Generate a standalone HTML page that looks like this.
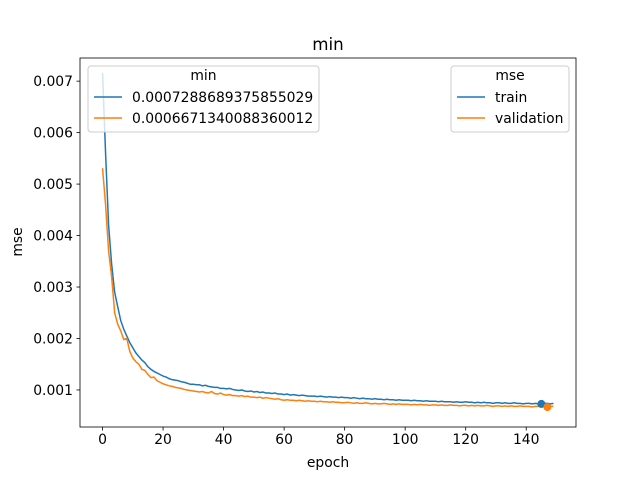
<!DOCTYPE html>
<html><head><meta charset="utf-8"><style>
body{margin:0;background:#fff;}
svg{display:block;font-family:"DejaVu Sans","Liberation Sans",sans-serif;}
</style></head><body>
<svg id="chart" width="640" height="480" viewBox="0 0 640 480"></svg>
<script>
const epochs = Array.from({length:150},(_,i)=>i);
const trainMse = [0.00716,0.00560,0.00420,0.00345,0.00290,0.00262,0.00235,0.00218,0.00205,0.00192,
0.00182,0.00172,0.00165,0.00158,0.00153,0.00145,0.00140,0.00136,0.00133,0.00130,
0.00127,0.00125,0.00122,0.00120,0.00119,0.00118,0.00116,0.00115,0.00113,0.00111,
0.00111,0.00110,0.00110,0.00108,0.00109,0.00107,0.00106,0.00105,0.00105,0.00103,
0.00103,0.00102,0.00103,0.00101,0.00100,0.00099,0.00100,0.00098,0.00097,0.00098,
0.00096,0.00097,0.00095,0.00096,0.00094,0.00094,0.00093,0.00094,0.00092,0.00092,
0.00091,0.00092,0.00090,0.00091,0.00090,0.00089,0.00090,0.00089,0.00088,0.00088,
0.00088,0.00087,0.00088,0.00087,0.00086,0.00087,0.00086,0.00086,0.00085,0.00086,
0.00085,0.00085,0.00084,0.00085,0.00084,0.00083,0.00084,0.00083,0.00083,0.00082,
0.00083,0.00082,0.00082,0.00081,0.00082,0.00081,0.00081,0.00080,0.00081,0.00080,
0.00080,0.00080,0.00079,0.00080,0.00079,0.00079,0.00078,0.00079,0.00078,0.00078,
0.00078,0.00077,0.00078,0.00077,0.00077,0.00077,0.00076,0.00077,0.00076,0.00076,
0.00077,0.00076,0.00076,0.00075,0.00076,0.00075,0.00076,0.00075,0.00075,0.00074,
0.00075,0.00075,0.00074,0.00075,0.00074,0.00074,0.00075,0.00074,0.00074,0.00073,
0.00074,0.00074,0.00073,0.00074,0.00073,0.000729,0.00074,0.00074,0.00073,0.00074];
const valMse = [0.00531,0.00460,0.00370,0.00320,0.00250,0.00228,0.00215,0.00198,0.00200,0.00175,
0.00162,0.00155,0.00150,0.00140,0.00138,0.00130,0.00124,0.00125,0.00118,0.00115,
0.00112,0.00110,0.00108,0.00107,0.00105,0.00104,0.00103,0.00101,0.00100,0.00099,
0.00098,0.00097,0.00096,0.00097,0.00095,0.00094,0.00097,0.00093,0.00092,0.00094,
0.00091,0.00090,0.00091,0.00089,0.00089,0.00088,0.00089,0.00087,0.00088,0.00086,
0.00086,0.00085,0.00086,0.00084,0.00085,0.00084,0.00083,0.00082,0.00083,0.00081,
0.00080,0.00081,0.00080,0.00080,0.00079,0.00080,0.00079,0.00078,0.00079,0.00078,
0.00078,0.00077,0.00078,0.00077,0.00077,0.00076,0.00077,0.00076,0.00076,0.00075,
0.00075,0.00076,0.00075,0.00074,0.00075,0.00074,0.00074,0.00075,0.00074,0.00073,
0.00074,0.00073,0.00073,0.00074,0.00073,0.00072,0.00073,0.00072,0.00073,0.00072,
0.00072,0.00072,0.00071,0.00072,0.00071,0.00072,0.00071,0.00071,0.00070,0.00071,
0.00071,0.00070,0.00071,0.00070,0.00070,0.00071,0.00070,0.00070,0.00069,0.00070,
0.00070,0.00069,0.00070,0.00069,0.00070,0.00069,0.00069,0.00070,0.00069,0.00068,
0.00069,0.00069,0.00068,0.00069,0.00068,0.00069,0.00068,0.00068,0.00069,0.00068,
0.00068,0.00068,0.00067,0.00068,0.00068,0.00067,0.00068,0.000667,0.00068,0.00068];
const xTicks = [0,20,40,60,80,100,120,140];
const yTicks = [0.001,0.002,0.003,0.004,0.005,0.006,0.007];
const yTickLabels = ["0.001","0.002","0.003","0.004","0.005","0.006","0.007"];
const legendMin = ["0.0007288689375855029","0.0006671340088360012"];
const legendSeries = ["train","validation"];

const svg = document.getElementById('chart');
const NS='http://www.w3.org/2000/svg';
const L=80,R=576,T=58,B=427;
const xmin=-7.45,xmax=156.45,ymin=0.00028,ymax=0.00745;
const sx=v=>L+(v-xmin)/(xmax-xmin)*(R-L);
const sy=v=>B-(v-ymin)/(ymax-ymin)*(B-T);
function mk(tag,attrs,parent){const e=document.createElementNS(NS,tag);for(const k in attrs)e.setAttribute(k,attrs[k]);(parent||svg).appendChild(e);return e;}
function txt(s,attrs){const e=mk('text',attrs);e.textContent=s;return e;}
const C1='#1f77b4',C2='#ff7f0e';

let e;
e=mk('rect',{x:L,y:T,width:R-L,height:B-T,fill:'#fff'});



function line(arr,color,name){
  const d=arr.map((v,i)=>(i?'L':'M')+sx(epochs[i]).toFixed(2)+','+sy(v).toFixed(2)).join('');
  const p=mk('path',{d:d,fill:'none',stroke:color,'stroke-width':1.5});
  
  
}
line(trainMse,C1,'train-line');
line(valMse,C2,'validation-line');
function minDot(arr,color,name){
  let mi=0;arr.forEach((v,i)=>{if(v<arr[mi])mi=i;});
  const c=mk('circle',{cx:sx(epochs[mi]),cy:sy(arr[mi]),r:4,fill:color});
  
  
}
minDot(trainMse,C1,'train-min-marker');
minDot(valMse,C2,'validation-min-marker');

e=mk('rect',{x:L,y:T,width:R-L,height:B-T,fill:'none',stroke:'#000','stroke-width':0.8});



xTicks.forEach(v=>{
  const x=sx(v);
  const t=mk('line',{x1:x,x2:x,y1:B,y2:B+3.5,stroke:'#000','stroke-width':0.8});
  
  
  const l=txt(String(v),{x:x,y:B+17,'font-size':13.9,'text-anchor':'middle'});
  
  
});
yTicks.forEach((v,i)=>{
  const y=sy(v);
  const t=mk('line',{x1:L-3.5,x2:L,y1:y,y2:y,stroke:'#000','stroke-width':0.8});
  
  
  const l=txt(yTickLabels[i],{x:L-7,y:y+5,'font-size':13.9,'text-anchor':'end'});
  
  
});
e=txt('epoch',{x:(L+R)/2,y:467,'font-size':13.9,'text-anchor':'middle'});


e=txt('mse',{x:0,y:0,'font-size':13.9,'text-anchor':'middle',transform:'translate(22,242) rotate(-90)'});


e=txt('min',{x:(L+R)/2,y:50,'font-size':16.7,'text-anchor':'middle'});



function legend(x,w,title,labels,name){
  const g=mk('g',{});
  
  
  mk('rect',{x:x,y:66,width:w,height:66,rx:3,fill:'#fff','fill-opacity':0.8,stroke:'#ccc','stroke-width':1},g);
  const tt=mk('text',{x:x+w/2,y:80,'font-size':13.9,'text-anchor':'middle'},g);tt.textContent=title;
  [C1,C2].forEach((c,i)=>{
    const y=97+i*21;
    mk('line',{x1:x+6,x2:x+34,y1:y,y2:y,stroke:c,'stroke-width':1.5},g);
    const t=mk('text',{x:x+44,y:y+5,'font-size':13.9},g);t.textContent=labels[i];
  });
}
legend(88,231,'min',legendMin,'min-legend');
legend(451,118,'mse',legendSeries,'series-legend');
</script>
</body></html>
